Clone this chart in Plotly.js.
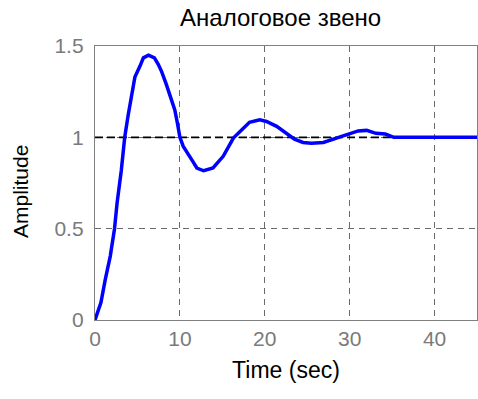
<!DOCTYPE html>
<html>
<head>
<meta charset="utf-8">
<script src="https://cdn.plot.ly/plotly-3.0.1.min.js"></script>
<style>
html,body{margin:0;padding:0;background:#fff;}
#chart{width:478px;height:399px;}
</style>
</head>
<body>
<div id="chart"></div>
<script>
// Step response
const time = [0, 0.7, 1.2, 1.8, 2.3, 2.6, 3.1, 3.5, 3.9, 4.3, 4.7, 5.3, 5.7, 6.3, 7.0, 7.45, 7.85, 8.4, 9.0, 9.4, 9.7, 10.0, 10.4, 11.0, 11.5, 12.0, 12.8, 13.9, 15.1, 16.3, 17.3, 18.2, 19.4, 20.2, 21.4, 22.5, 23.5, 24.5, 25.5, 26.9, 28.4, 30.0, 31.0, 32.0, 33.1, 34.2, 35.2, 45];
const amplitude = [0, 0.095, 0.22, 0.35, 0.50, 0.64, 0.82, 1.0, 1.12, 1.24, 1.33, 1.39, 1.435, 1.45, 1.435, 1.40, 1.36, 1.29, 1.21, 1.15, 1.08, 1.0, 0.95, 0.91, 0.87, 0.832, 0.817, 0.832, 0.896, 0.996, 1.04, 1.082, 1.096, 1.087, 1.06, 1.024, 0.99, 0.972, 0.968, 0.972, 0.996, 1.024, 1.035, 1.038, 1.022, 1.018, 1.0, 1.0];
const steadyTime = [0, 45];
const steadyValue = [1, 1];
const xTicks = [0, 10, 20, 30, 40];
const yTicks = [0, 0.5, 1, 1.5];
const yTickLabels = ["0", "0.5", "1", "1.5"];
const titleText = "Аналоговое звено";
const xLabel = "Time (sec)";
const yLabel = "Amplitude";

const FONT = "Liberation Sans, Arial, sans-serif";

const traces = [
  {x: steadyTime, y: steadyValue, mode: "lines", line: {color: "#000", width: 1.8, dash: "8px,4px"}, hoverinfo: "skip"},
  {x: time, y: amplitude, mode: "lines", line: {color: "#0000ff", width: 3.5}}
];

const axisCommon = {
  showline: true, mirror: true, linecolor: "#808080", linewidth: 1.2,
  showgrid: true, gridcolor: "#6a6a6a", gridwidth: 1, griddash: "6px,5px",
  zeroline: false, ticks: "",
  tickfont: {family: FONT, size: 21, color: "#7a7a7a"}
};

const layout = {
  width: 478, height: 399,
  margin: {l: 95, r: 1, t: 46, b: 79},
  paper_bgcolor: "#fff", plot_bgcolor: "#fff",
  showlegend: false,
  title: {text: titleText, x: 0.587, xanchor: "center", y: 0.955, yanchor: "middle",
          font: {family: FONT, size: 24, color: "#000"}},
  xaxis: Object.assign({}, axisCommon, {
    range: [0, 45], tickvals: xTicks, ticktext: xTicks.map(String),
    title: {text: xLabel, standoff: 12, font: {family: FONT, size: 23, color: "#000"}}
  }),
  yaxis: Object.assign({}, axisCommon, {
    range: [0, 1.5], tickvals: yTicks, ticktext: yTickLabels, ticklabelstandoff: 6
  }),
  annotations: [{
    text: yLabel, xref: "paper", yref: "paper",
    x: -75 / 382, y: (320 - 192) / 274, xanchor: "center", yanchor: "middle",
    textangle: -90, showarrow: false,
    font: {family: FONT, size: 21, color: "#000"}
  }]
};

Plotly.newPlot("chart", traces, layout, {staticPlot: true, displayModeBar: false});
</script>
</body>
</html>
